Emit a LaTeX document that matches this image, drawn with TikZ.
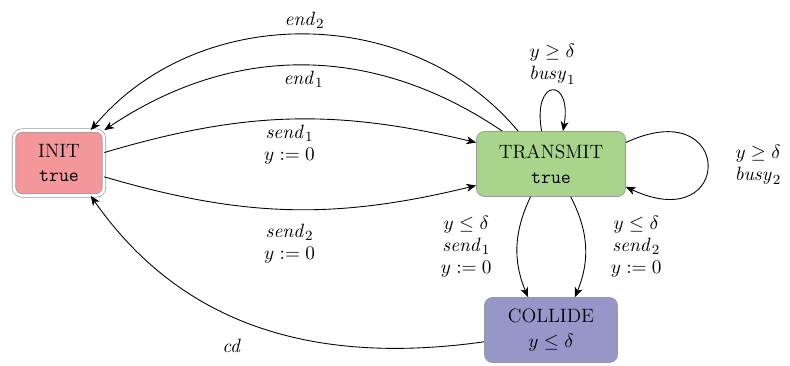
\documentclass[tikz,border=0pt]{standalone}
\usetikzlibrary{arrows.meta}

\definecolor{initred}{HTML}{F4979A}
\definecolor{sendgreen}{HTML}{A8D48B}
\definecolor{collpurple}{HTML}{9796C8}
\definecolor{locgray}{HTML}{9A9A9A}

\begin{document}
\begin{tikzpicture}[>={Stealth[length=5.5pt,width=4.5pt,inset=1.5pt]},
    font=\fontsize{11}{12.5}\selectfont, align=center,
    loc/.style={rectangle, rounded corners=4.5pt, draw=locgray, minimum height=1.3cm},
    edgeline/.style={->, line width=0.5pt}]

    \useasboundingbox (0,0) rectangle (15.8,7.3);

    % LOCATIONS
    \node[loc, fill=initred, double=white, double distance=1.5pt, minimum width=1.8cm]
        (init) at (1.18,4.04) {INIT\\[1.5pt]\texttt{true}};
    \node[loc, fill=sendgreen, minimum width=2.98cm]
        (transmit) at (11.02,4.02) {TRANSMIT\\[1.5pt]\texttt{true}};
    \node[loc, fill=collpurple, minimum width=2.66cm]
        (collide) at (11.02,0.70) {COLLIDE\\[1.5pt]$y \leq \delta$};

    % BACK TO INIT
    \draw[edgeline] (transmit.135) to[bend right=50]
        node[above] {$\mathit{end}_2$} (init.46);
    \draw[edgeline] (transmit.146) to[bend right=34]
        node[below] {$\mathit{end}_1$} (init.north east);

    % SENDING
    \draw[edgeline] (init.13) to[bend left=15]
        node[below] {$\mathit{send}_1$\\$y := 0$} (transmit.164);
    \draw[edgeline] (init.-17) to[bend right=15]
        node[below=5pt] {$\mathit{send}_2$\\$y := 0$} (transmit.196);

    % BUSY LOOPS
    \draw[edgeline] (transmit.106) to[out=100, in=80, distance=1.1cm]
        node[above] {$y \geq \delta$\\$\mathit{busy}_1$} (transmit.70);
    \draw[edgeline] (transmit.16) to[out=25, in=-25, distance=2.4cm]
        node[right=12pt] {$y \geq \delta$\\$\mathit{busy}_2$} (transmit.-17);

    % COLLISION
    \draw[edgeline] (transmit.238) to[bend right=24]
        node[left=11pt] {$y \leq \delta$\\$\mathit{send}_1$\\$y := 0$} (collide.125);
    \draw[edgeline] (transmit.301) to[bend left=25]
        node[right=11pt] {$y \leq \delta$\\$\mathit{send}_2$\\$y := 0$} (collide.54);
    \draw[edgeline] (collide.190) to[out=188, in=-55]
        node[pos=0.55, below=7pt, xshift=-0.2cm] {$\mathit{cd}$} (init.314);

\end{tikzpicture}
\end{document}
